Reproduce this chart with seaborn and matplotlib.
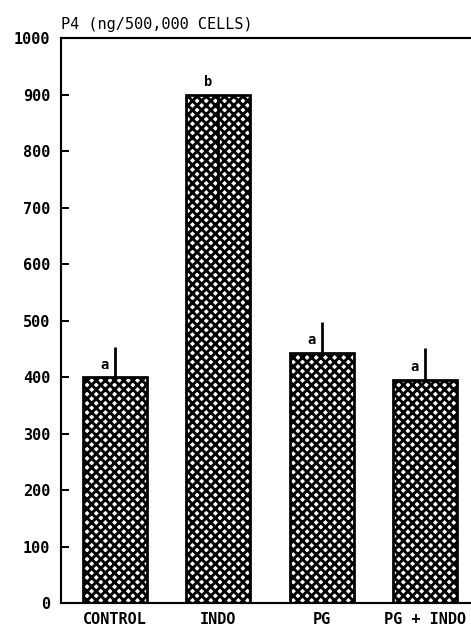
import matplotlib
matplotlib.use("Agg")
import matplotlib.pyplot as plt
import seaborn as sns
import pandas as pd

# Progesterone output per treatment group
groups = ["CONTROL", "INDO", "PG", "PG + INDO"]
p4_mean = [400, 900, 443, 395]
err_up = [53, 0, 55, 57]
err_down = [0, 200, 0, 0]
sig_letters = ["a", "b", "a", "a"]

yticks = [0, 100, 200, 300, 400, 500, 600, 700, 800, 900, 1000]

sns.set_style("white")
plt.rcParams["font.family"] = ["DejaVu Sans Mono", "DejaVu Sans"]
plt.rcParams["hatch.linewidth"] = 1.9
plt.rcParams["hatch.color"] = "black"

DPI = 110
fig = plt.figure(figsize=(471 / DPI, 629 / DPI), dpi=DPI)
ax = fig.add_axes([0.1295, 0.041, 0.8705, 0.898])

df = pd.DataFrame({"group": groups, "p4": p4_mean})
sns.barplot(data=df, x="group", y="p4", order=groups, color="white",
            edgecolor="black", linewidth=1.8, width=0.62, hatch="xxxx",
            errorbar=None, ax=ax, zorder=2)
for bar in ax.patches:
    bar.set_facecolor("white")

xs = list(range(len(groups)))
ax.errorbar(xs, p4_mean, yerr=[err_down, err_up], fmt="none",
            ecolor="black", elinewidth=1.8, capsize=0, zorder=3)

# significance letters just above each bar, left of the error bar
for x, m, s in zip(xs, p4_mean, sig_letters):
    ax.text(x - 0.1, m + 10, s, ha="center", va="bottom",
            fontsize=9, fontweight="bold", color="black", zorder=4)

ax.set_xlim(-0.522, 3.443)
ax.set_ylim(0, 1000)
ax.set_yticks(yticks)
ax.set_yticklabels([str(t) for t in yticks], fontsize=10, fontweight="bold")
ax.set_xticks(xs)
ax.set_xticklabels(groups, fontsize=10, fontweight="bold")
ax.set_xlabel("")
ax.set_ylabel("")

ax.tick_params(axis="y", direction="in", length=5.5, width=1.3, pad=7,
               left=True, colors="black")
ax.tick_params(axis="x", length=0, pad=6, colors="black")

for side in ["left", "top", "bottom"]:
    ax.spines[side].set_visible(True)
    ax.spines[side].set_linewidth(1.4)
    ax.spines[side].set_color("black")
ax.spines["right"].set_visible(False)

ax.text(0.0, 1.012, "P4 (ng/500,000 CELLS)", transform=ax.transAxes,
        ha="left", va="bottom", fontsize=10, color="black")

fig.savefig("out.png", dpi=DPI)
